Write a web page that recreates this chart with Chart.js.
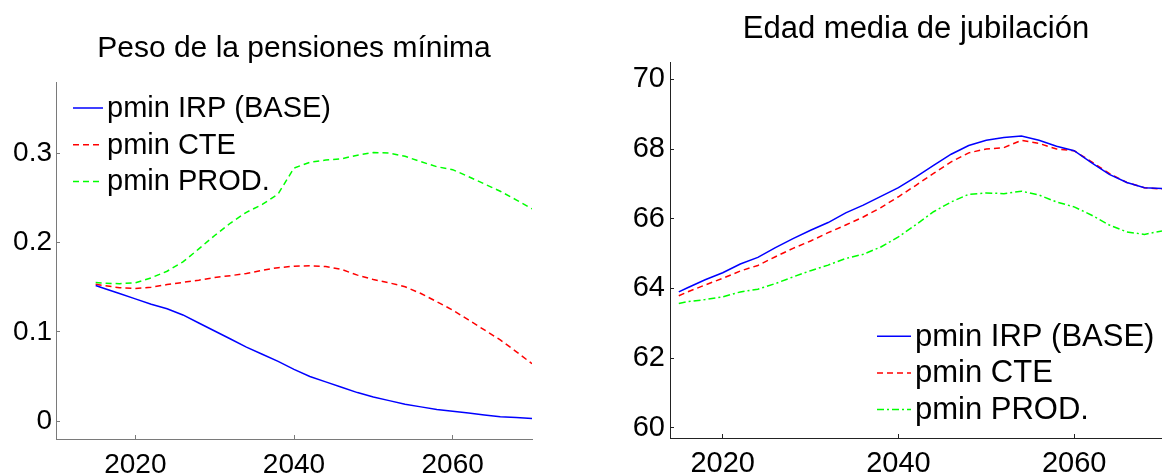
<!DOCTYPE html>
<html lang="es">
<head>
<meta charset="UTF-8">
<title>Pensiones mínimas y edad media de jubilación</title>
<script src="https://cdn.jsdelivr.net/npm/chart.js"></script>
<style>
  body { margin: 0; background: #fff; }
  .panel { position: absolute; top: 0; height: 473px; }
  #wrapPeso { left: 0; width: 580px; }
  #wrapEdad { left: 580px; width: 582px; }
</style>
</head>
<body>
<div class="panel" id="wrapPeso"><canvas id="pesoChart"></canvas></div>
<div class="panel" id="wrapEdad"><canvas id="edadChart"></canvas></div>

<script>
// Años de simulación (común a los dos gráficos)
const years = [2015, 2016, 2018, 2020, 2022, 2024, 2026, 2028, 2030, 2032, 2034, 2036, 2038, 2040,
               2042, 2044, 2046, 2048, 2050, 2052, 2054, 2056, 2058, 2060, 2062, 2064, 2066, 2068, 2070];

const seriesNames = ['pmin IRP (BASE)', 'pmin CTE', 'pmin PROD.'];

// Peso de las pensiones mínimas
const pesoBase = [0.152, 0.149, 0.143, 0.137, 0.131, 0.126, 0.119, 0.110, 0.101, 0.092, 0.083, 0.075, 0.067, 0.058,
                  0.050, 0.044, 0.038, 0.032, 0.027, 0.023, 0.019, 0.016, 0.013, 0.011, 0.009, 0.007, 0.005, 0.004, 0.003];
const pesoCte  = [0.1535, 0.152, 0.1495, 0.1487, 0.150, 0.153, 0.1555, 0.158, 0.161, 0.163, 0.1655, 0.169, 0.172, 0.1736,
                  0.174, 0.1732, 0.170, 0.1636, 0.1587, 0.155, 0.1506, 0.143, 0.1338, 0.1245, 0.1134, 0.1022, 0.091, 0.078, 0.0643];
const pesoProd = [0.1554, 0.1545, 0.154, 0.155, 0.1606, 0.168, 0.1784, 0.193, 0.208, 0.222, 0.234, 0.2428, 0.2546, 0.2836,
                  0.290, 0.2925, 0.294, 0.298, 0.301, 0.3004, 0.2967, 0.2907, 0.2851, 0.2818, 0.274, 0.2658, 0.2576, 0.248, 0.2379];

// Edad media de jubilación
const edadBase = [63.90, 64.02, 64.25, 64.45, 64.70, 64.89, 65.17, 65.43, 65.67, 65.89, 66.17, 66.39, 66.64, 66.89,
                  67.20, 67.53, 67.85, 68.10, 68.25, 68.33, 68.37, 68.25, 68.08, 67.95, 67.60, 67.27, 67.04, 66.89, 66.87];
const edadCte  = [63.79, 63.90, 64.10, 64.29, 64.50, 64.66, 64.91, 65.15, 65.36, 65.60, 65.82, 66.05, 66.32, 66.63,
                  66.96, 67.30, 67.63, 67.89, 68.00, 68.04, 68.25, 68.16, 68.00, 67.95, 67.63, 67.30, 67.04, 66.89, 66.85];
const edadProd = [63.57, 63.62, 63.68, 63.76, 63.90, 63.98, 64.14, 64.33, 64.51, 64.67, 64.86, 64.98, 65.19, 65.48,
                  65.83, 66.20, 66.48, 66.70, 66.74, 66.72, 66.79, 66.68, 66.48, 66.34, 66.10, 65.82, 65.62, 65.55, 65.65];

const pesoTicks = [0, 0.1, 0.2, 0.3];
const edadTicks = [60, 62, 64, 66, 68, 70];
const yearTicks = [2020, 2040, 2060];

const FONT = '"Liberation Sans", Arial, Helvetica, sans-serif';

// leyenda dibujada dentro del área del gráfico
const insideLegend = {
    id: 'insideLegend',
    afterDatasetsDraw(chart, args, opts) {
        const ctx = chart.ctx;
        const area = chart.chartArea;
        ctx.save();
        ctx.font = opts.size + 'px ' + FONT;
        ctx.textBaseline = 'middle';
        ctx.fillStyle = '#000';
        chart.data.datasets.forEach((ds, i) => {
            const x = area.left + opts.x;
            const y = area.top + opts.y + i * opts.row;
            ctx.strokeStyle = ds.borderColor;
            ctx.lineWidth = ds.borderWidth;
            ctx.setLineDash(ds.borderDash || []);
            ctx.beginPath();
            ctx.moveTo(x, y);
            ctx.lineTo(x + opts.sample, y);
            ctx.stroke();
            ctx.setLineDash([]);
            ctx.fillText(ds.label, x + opts.sample + 4, y + 1);
        });
        ctx.restore();
    }
};

function makeDatasets(values, dashes) {
    const colors = ['#0000ff', '#ff0000', '#00ff00'];
    return values.map((vals, i) => ({
        label: seriesNames[i],
        data: years.map((yr, k) => ({ x: yr, y: vals[k] })),
        borderColor: colors[i],
        borderWidth: 1.5,
        borderDash: dashes[i],
        pointRadius: 0,
        tension: 0,
        fill: false
    }));
}

function makeChart(id, cfg) {
    const ctx = document.getElementById(id).getContext('2d');
    return new Chart(ctx, {
        type: 'line',
        data: { datasets: makeDatasets(cfg.values, cfg.dashes) },
        plugins: [insideLegend],
        options: {
            responsive: true,
            maintainAspectRatio: false,
            animation: false,
            layout: { padding: { left: 0, right: cfg.padRight, top: 0, bottom: 0 } },
            plugins: {
                legend: { display: false },
                tooltip: { enabled: false },
                title: {
                    display: true,
                    text: cfg.title,
                    color: '#000',
                    fullSize: false,
                    font: { family: FONT, size: cfg.titleSize, weight: 'normal' },
                    padding: cfg.titlePad
                },
                insideLegend: cfg.legend
            },
            scales: {
                x: {
                    type: 'linear',
                    min: cfg.xMin,
                    max: 2070,
                    afterBuildTicks: s => { s.ticks = yearTicks.map(v => ({ value: v })); },
                    afterFit: s => { s.height = cfg.xHeight; },
                    ticks: {
                        color: '#000',
                        font: { family: FONT, size: cfg.tickSize },
                        padding: 13,
                        maxRotation: 0,
                        callback: v => String(v)
                    },
                    grid: { drawOnChartArea: false, drawTicks: true, tickLength: -4, color: cfg.axisColor },
                    border: { color: cfg.axisColor, width: 1 }
                },
                y: {
                    min: cfg.yMin,
                    max: cfg.yMax,
                    afterBuildTicks: s => { s.ticks = cfg.yTicks.map(v => ({ value: v })); },
                    afterFit: s => { s.width = cfg.yWidth; },
                    ticks: {
                        color: '#000',
                        font: { family: FONT, size: cfg.tickSize },
                        padding: cfg.yPad,
                        callback: v => String(v)
                    },
                    grid: { drawOnChartArea: false, drawTicks: true, tickLength: -4, color: cfg.axisColor },
                    border: { color: cfg.axisColor, width: 1 }
                }
            }
        }
    });
}

makeChart('pesoChart', {
    title: 'Peso de la pensiones mínima',
    titleSize: 30,
    titlePad: { top: 31, bottom: 15 },
    values: [pesoBase, pesoCte, pesoProd],
    dashes: [[], [6, 4], [6, 4]],
    xMin: 2010, yMin: -0.02, yMax: 0.38, yTicks: pesoTicks,
    axisColor: '#7a7a7a',
    tickSize: 28, yWidth: 56, yPad: 8, xHeight: 34, padRight: 48,
    legend: { size: 29, x: 17, y: 26, row: 36.7, sample: 30 }
});

makeChart('edadChart', {
    title: 'Edad media de jubilación',
    titleSize: 31,
    titlePad: { top: 11, bottom: 14 },
    values: [edadBase, edadCte, edadProd],
    dashes: [[], [6, 4], [7, 3, 2, 3]],
    xMin: 2014, yMin: 59.71, yMax: 70.49, yTicks: edadTicks,
    axisColor: '#222',
    tickSize: 29, yWidth: 90, yPad: 9, xHeight: 35, padRight: 0,
    legend: { size: 31, x: 207, y: 274, row: 36.7, sample: 34 }
});
</script>
</body>
</html>
